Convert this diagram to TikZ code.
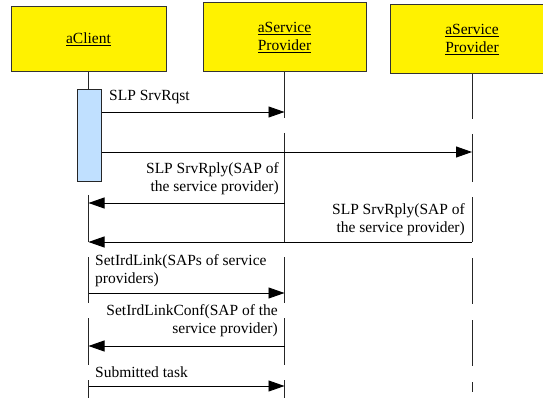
\documentclass[tikz,border=0pt]{standalone}
\usepackage{fontspec}
\setmainfont{Liberation Serif}
\usetikzlibrary{arrows.meta,positioning}
\definecolor{actblue}{RGB}{192,224,255}

\begin{document}
\begin{tikzpicture}[x=1pt, y=-1pt, font=\fontsize{15.5}{18}\selectfont]
  \tikzstyle{object}=[rectangle, draw=black!80, fill=yellow, line width=1pt, align=center, inner sep=0pt]
  \tikzstyle{activation}=[rectangle, draw=black!85, fill=actblue, line width=1pt, minimum width=24pt, minimum height=92pt, inner sep=0pt]
  \tikzstyle{lifeline}=[draw=black!85, line width=0.9pt]
  \tikzstyle{msg}=[draw=black, line width=0.9pt, -{Triangle[length=16pt,width=11pt]}]
  \tikzstyle{msgtext}=[inner sep=0pt]

  \useasboundingbox (0,0) rectangle (543,398);
  \clip (0,0) rectangle (543,398);

  % Objetos
  \node[object, minimum width=155pt, minimum height=65pt] (client) at (88.5,39.5) {\underline{aClient}};
  \node[object, minimum width=163pt, minimum height=69pt] (prov1) at (284.5,37.5) {\underline{aService}\\\underline{Provider}};
  \node[object, minimum width=164pt, minimum height=69pt] (prov2) at (472,39.5) {\underline{aService}\\\underline{Provider}};
  \node[activation] (act) at (89,136) {};

  % Lineas de vida
  \draw[lifeline] (client.south) -- (client |- act.north)
    (client |- 0,195) -- (client |- 0,242)
    (client |- 0,257) -- (client |- 0,303)
    (client |- 0,318) -- (client |- 0,365)
    (client |- 0,380) -- (client |- 0,398);
  \draw[lifeline] (prov1.south) -- (prov1 |- 0,118)
    (prov1 |- 0,133) -- (prov1 |- 0,242)
    (prov1 |- 0,257) -- (prov1 |- 0,303)
    (prov1 |- 0,318) -- (prov1 |- 0,365)
    (prov1 |- 0,380) -- (prov1 |- 0,398);
  \draw[lifeline] (prov2.south) -- (prov2 |- 0,119)
    (prov2 |- 0,134) -- (prov2 |- 0,182)
    (prov2 |- 0,197) -- (prov2 |- 0,242)
    (prov2 |- 0,258) -- (prov2 |- 0,304)
    (prov2 |- 0,320) -- (prov2 |- 0,366)
    (prov2 |- 0,382) -- (prov2 |- 0,392);

  % Mensajes
  \draw[msg] (act.east |- 0,112) -- (prov1 |- 0,112);
  \draw[msg] (act.east |- 0,152) -- (prov2 |- 0,152);
  \draw[msg] (prov1 |- 0,203) -- (client |- 0,203);
  \draw[msg] (prov2 |- 0,242) -- (client |- 0,242);
  \draw[msg] (client |- 0,293) -- (prov1 |- 0,293);
  \draw[msg] (prov1 |- 0,346) -- (client |- 0,346);
  \draw[msg] (client |- 0,386) -- (prov1 |- 0,386);

  % Etiquetas
  \node[msgtext, anchor=west] (rqst) at (109,97) {SLP SrvRqst};
  \node[msgtext, anchor=east, align=right] (rply1) at (279,179) {SLP SrvRply(SAP of\\the service provider)};
  \node[msgtext, anchor=east, align=right] (rply2) at (465,219.5) {SLP SrvRply(SAP of\\the service provider)};
  \node[msgtext, anchor=west, align=left] (link) at (95,271) {SetIrdLink(SAPs of service\\providers)};
  \node[msgtext, anchor=east, align=right] (conf) at (278,321) {SetIrdLinkConf(SAP of the\\service provider)};
  \node[msgtext, anchor=west] (task) at (95,372) {Submitted task};
\end{tikzpicture}
\end{document}
